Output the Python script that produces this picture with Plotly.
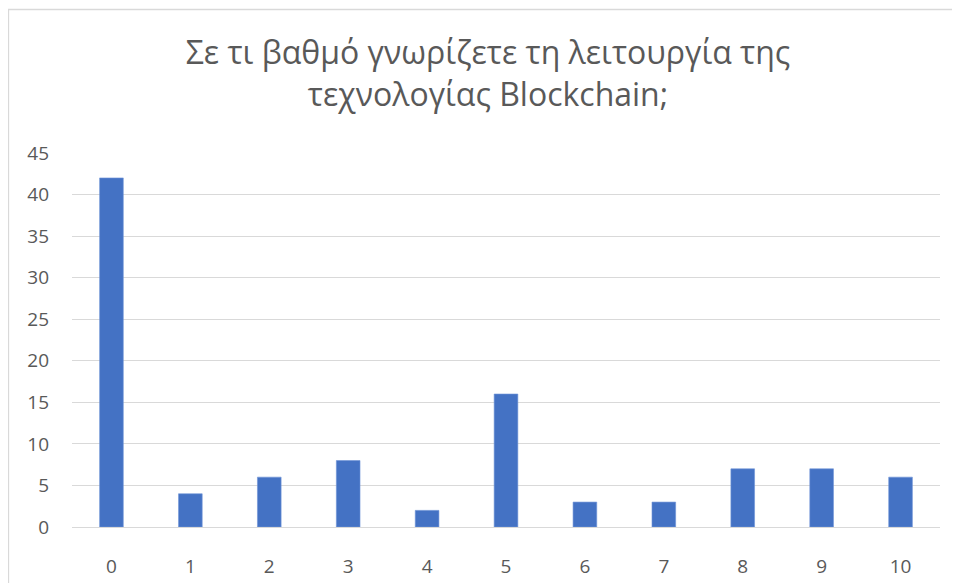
import plotly.graph_objects as go

categories = ["0", "1", "2", "3", "4", "5", "6", "7", "8", "9", "10"]
values = [42, 4, 6, 8, 2, 16, 3, 3, 7, 7, 6]
y_ticks = [0, 5, 10, 15, 20, 25, 30, 35, 40, 45]
title_text = "Σε τι βαθμό γνωρίζετε τη λειτουργία της<br>τεχνολογίας Blockchain;"

fig = go.Figure()
fig.add_trace(go.Bar(
    x=categories, y=values,
    marker=dict(color="#4472c4", line=dict(color="#6f93d6", width=0.6)),
    width=0.3,
))

# page body has an 8px margin; compensate so screen positions match
OFF = 8
W, H = 960 - OFF, 583 - OFF
L, R, T, B = 72 - OFF, 20, 153 - OFF, 56
pw, ph = W - L - R, H - T - B

def px(x):
    return (x - OFF - L) / pw

def py(y):
    return (H - B - (y - OFF)) / ph

fig.add_shape(type="rect", xref="paper", yref="paper",
              x0=px(8.5), x1=px(1100), y0=py(9.5), y1=py(800),
              line=dict(color="#d9d9d9", width=1.3), fillcolor="rgba(0,0,0,0)", layer="below")

fig.update_layout(
    width=W, height=H,
    margin=dict(l=L, r=R, t=T, b=B, autoexpand=False),
    paper_bgcolor="white", plot_bgcolor="white",
    showlegend=False,
    font=dict(family="Open Sans", color="#595959"),
    title=dict(text=title_text, xref="container", yref="container",
               x=(488 - OFF) / W, y=1 - 56 / H, xanchor="center", yanchor="middle",
               font=dict(size=32, color="#595959", family="Open Sans")),
    xaxis=dict(type="category", showgrid=False, showline=False, ticks="", automargin=False,
               tickfont=dict(size=19, color="#595959"), ticklabelstandoff=26),
    yaxis=dict(range=[0, 45], tickvals=y_ticks, showgrid=True, gridcolor="#d9d9d9",
               gridwidth=1.3, zeroline=True, zerolinecolor="#d9d9d9", zerolinewidth=1.3,
               showline=False, ticks="", automargin=False,
               tickfont=dict(size=19, color="#595959"), ticklabelstandoff=22),
)

fig.write_html("out.html")
